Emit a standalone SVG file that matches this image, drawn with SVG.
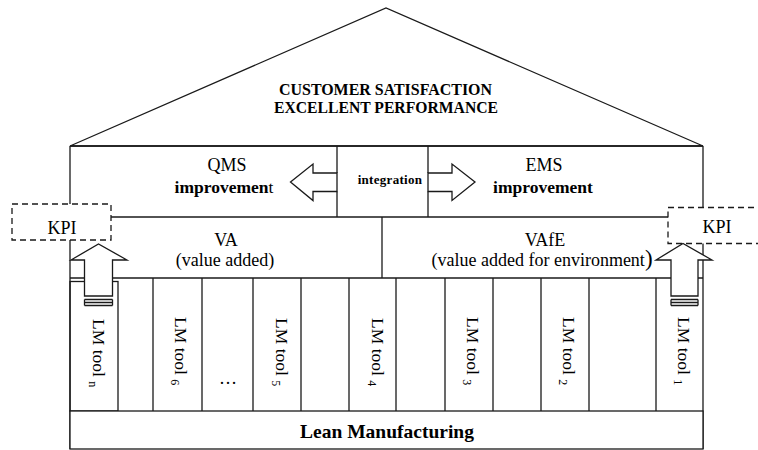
<svg xmlns="http://www.w3.org/2000/svg" width="758" height="450" viewBox="0 0 758 450">
<style>
  .ln{fill:none;stroke:#1a1a1a;stroke-width:1.3}
  .bx{fill:#fff;stroke:#1a1a1a;stroke-width:1.3}
  .ar{fill:#fff;stroke:#1a1a1a;stroke-width:1.3;stroke-linejoin:miter}
  .dash{fill:#fff;stroke:#1a1a1a;stroke-width:1.3;stroke-dasharray:6 4}
  text{font-family:"Liberation Serif","Times New Roman",serif;fill:#000}
  .t18{font-size:18px}
  .b{font-weight:bold}
  .tool{font-size:17.5px}
  .sub{font-size:12px}
</style>
<rect x="0" y="0" width="758" height="450" fill="#fff"/>

<g id="roof">
  <polygon class="ln" points="70,146 386,8 703,146"/>
  <text class="b" x="279" y="95" font-size="17.5" textLength="213" lengthAdjust="spacingAndGlyphs">CUSTOMER SATISFACTION</text>
  <text class="b" x="274" y="113" font-size="17.5" textLength="224" lengthAdjust="spacingAndGlyphs">EXCELLENT PERFORMANCE</text>
</g>

<g id="walls">
  <line class="ln" x1="70" y1="146" x2="703" y2="146"/>
  <line class="ln" x1="70" y1="146" x2="70" y2="449"/>
  <line class="ln" x1="703" y1="146" x2="703" y2="449"/>
  <line class="ln" x1="70" y1="217" x2="703" y2="217"/>
  <line class="ln" x1="70" y1="278" x2="703" y2="278"/>
</g>

<g id="integration">
  <path class="ln" d="M337,146 V173 M337,191.5 V217 M428,146 V173 M428,191.5 V217"/>
  <text class="b" x="390" y="184" font-size="13" letter-spacing="0.3" text-anchor="middle">integration</text>
</g>

<g id="qms">
  <text class="t18" x="227" y="171" text-anchor="middle">QMS</text>
  <text x="224" y="193" font-size="17.5" text-anchor="middle"><tspan class="b">improvemen</tspan>t</text>
</g>

<g id="ems">
  <text class="t18" x="544" y="171" text-anchor="middle">EMS</text>
  <text class="b" x="543" y="193" font-size="17.5" text-anchor="middle">improvement</text>
</g>

<g id="va">
  <line class="ln" x1="382" y1="217" x2="382" y2="278"/>
  <text class="t18" x="226" y="246" text-anchor="middle">VA</text>
  <text class="t18" x="225" y="266" text-anchor="middle">(value added)</text>
</g>

<g id="vafe">
  <text class="t18" x="545" y="246" text-anchor="middle">VAfE</text>
  <text class="t18" x="542" y="266" text-anchor="middle">(value added for environment<tspan font-size="23">)</tspan></text>
</g>

<g id="tools">
  <rect class="ln" x="70" y="281.5" width="48" height="129.5"/>
  <path class="ln" d="M153,278 V411 M202,278 V411 M253,278 V411 M301,278 V411 M349,278 V411 M396,278 V411 M445,278 V411 M493,278 V411 M541,278 V411 M589,278 V411 M656,278 V411"/>
  <text class="tool" transform="translate(93,319) rotate(90)">LM tool <tspan class="sub" dy="4">n</tspan></text>
  <text class="tool" transform="translate(175,317) rotate(90)">LM tool <tspan class="sub" dy="4">6</tspan></text>
  <text class="t18" x="228" y="384" text-anchor="middle">…</text>
  <text class="tool" transform="translate(276,318) rotate(90)">LM tool <tspan class="sub" dy="4">5</tspan></text>
  <text class="tool" transform="translate(372,318) rotate(90)">LM tool <tspan class="sub" dy="4">4</tspan></text>
  <text class="tool" transform="translate(467,317) rotate(90)">LM tool <tspan class="sub" dy="4">3</tspan></text>
  <text class="tool" transform="translate(563,317) rotate(90)">LM tool <tspan class="sub" dy="4">2</tspan></text>
  <text class="tool" transform="translate(678,317) rotate(90)">LM tool <tspan class="sub" dy="4">1</tspan></text>
</g>

<g id="lean">
  <rect class="bx" x="70" y="411" width="633" height="38"/>
  <text class="b" x="387" y="438" font-size="19.5" text-anchor="middle">Lean Manufacturing</text>
</g>

<g id="kpi-left">
  <rect class="dash" x="12" y="204" width="99" height="36"/>
  <text class="t18" x="62" y="234" text-anchor="middle">KPI</text>
</g>

<g id="kpi-right">
  <rect class="dash" x="668" y="207.5" width="99" height="36"/>
  <text class="t18" x="717" y="233" text-anchor="middle">KPI</text>
</g>

<g id="connectors">
  <polygon class="ar" points="337,173 313,173 313,164 290.5,182 313,200.5 313,191.5 337,191.5"/>
  <polygon class="ar" points="428,173 452,173 452,164 475,182 452,200.5 452,191.5 428,191.5"/>
  <polygon class="ar" points="84.5,296 84.5,260 71,260 98.5,244 127,260 112.5,260 112.5,296"/>
  <path class="ln" d="M84.5,299.5 H112.5 M84.5,302.5 H112.5 M84.5,305.5 H112.5 M84.5,299.5 V305.5 M112.5,299.5 V305.5"/>
  <polygon class="ar" points="671,296 671,260 656,260 683,243.5 712,260 698,260 698,296"/>
  <path class="ln" d="M671,299.5 H698 M671,302.5 H698 M671,305.5 H698 M671,299.5 V305.5 M698,299.5 V305.5"/>
</g>
</svg>
